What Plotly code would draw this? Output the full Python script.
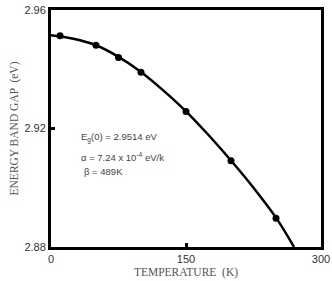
import plotly.graph_objects as go

# Measured data points (temperature K, band gap eV)
temp_pts = [10, 50, 75, 100, 150, 200, 250]
eg_pts = [2.9513, 2.9481, 2.9440, 2.9390, 2.9257, 2.9091, 2.8897]

# Fitted curve
temp_fit = [0, 25, 50, 75, 100, 125, 150, 175, 200, 225, 250, 270]
eg_fit = [2.9515, 2.9503, 2.9481, 2.9442, 2.9391, 2.9328, 2.9258, 2.9178, 2.9092, 2.9000, 2.8899, 2.8800]

x_ticks = [0, 150, 300]
y_ticks = [2.88, 2.92, 2.96]

fig = go.Figure()
fig.add_trace(go.Scatter(x=temp_fit, y=eg_fit, mode="lines", line=dict(color="black", width=2.5, shape="spline"),
                         hoverinfo="skip", showlegend=False))
fig.add_trace(go.Scatter(x=temp_pts, y=eg_pts, mode="markers", marker=dict(color="black", size=7),
                         showlegend=False))

axis_common = dict(showgrid=False, zeroline=False, showline=True, linecolor="black", linewidth=3, mirror=True,
                   ticks="inside", ticklen=4, tickwidth=2.5, tickcolor="black", automargin=False,
                   tickfont=dict(family="Liberation Sans", size=11, color="#333"))

fig.update_xaxes(range=[0, 300], tickvals=x_ticks, ticktext=[str(v) for v in x_ticks],
                 title=dict(text="TEMPERATURE  (K)", font=dict(family="Liberation Serif", size=11.5, color="#555"), standoff=4),
                 **axis_common)
fig.update_yaxes(range=[2.88, 2.96], tickvals=y_ticks, ticktext=[f"{v:.2f}" for v in y_ticks],
                 title=dict(text="ENERGY BAND GAP  (eV)", font=dict(family="Liberation Serif", size=11.5, color="#555"), standoff=4),
                 **axis_common)

ann_font = dict(family="Liberation Sans", size=9.5, color="#444")
fig.add_annotation(x=0.105, y=0.462, xref="paper", yref="paper", xanchor="left", yanchor="middle", showarrow=False,
                   text="E<sub>g</sub>(0) = 2.9514 eV", font=ann_font)
fig.add_annotation(x=0.105, y=0.38, xref="paper", yref="paper", xanchor="left", yanchor="middle", showarrow=False,
                   text="α = 7.24 x 10<sup>-4</sup> eV/k", font=ann_font)
fig.add_annotation(x=0.115, y=0.318, xref="paper", yref="paper", xanchor="left", yanchor="middle", showarrow=False,
                   text="β = 489K", font=ann_font)

fig.update_layout(width=332, height=281, margin=dict(l=51, r=11, t=10, b=34),
                  plot_bgcolor="white", paper_bgcolor="white")

fig.write_html("out.html")
